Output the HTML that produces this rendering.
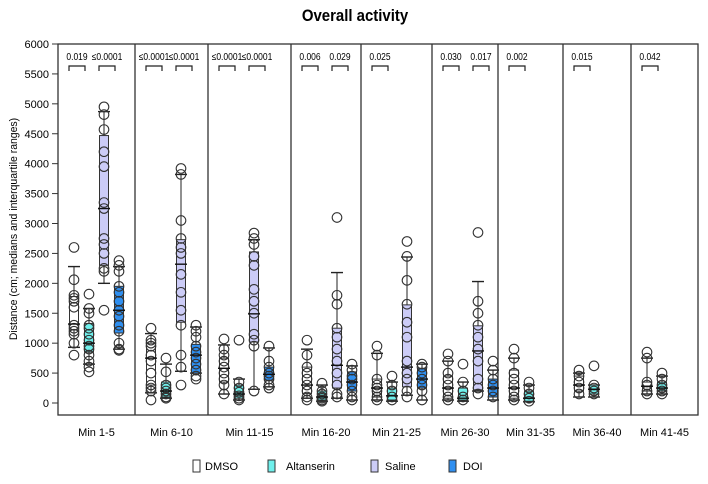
<!DOCTYPE html>
<html><head><meta charset="utf-8"><style>
body{margin:0;background:#fff;}
svg{display:block;font-family:"Liberation Sans",Arial,sans-serif;}
</style></head><body>
<svg id="chart" width="708" height="484" viewBox="0 0 708 484" xmlns="http://www.w3.org/2000/svg">
<text x="355" y="21" text-anchor="middle" font-size="17" font-weight="bold" transform="translate(355 0) scale(0.88 1) translate(-355 0)">Overall activity</text>
<text x="0" y="0" font-size="11" text-anchor="middle" transform="translate(17 229) rotate(-90) scale(0.95 1)">Distance (cm; medians and interquartile ranges)</text>
<g id="plot"></g>
<g>
<rect x="193" y="460" width="7" height="12" fill="#fff" stroke="#333"/>
<text x="205" y="470" font-size="11">DMSO</text>
<rect x="268" y="460" width="7" height="12" fill="#6ff0ec" stroke="#333"/>
<text x="286" y="470" font-size="11">Altanserin</text>
<rect x="371" y="460" width="7" height="12" fill="#ccccf7" stroke="#333"/>
<text x="385" y="470" font-size="11">Saline</text>
<rect x="449" y="460" width="7" height="12" fill="#2f8ff0" stroke="#333"/>
<text x="463" y="470" font-size="11">DOI</text>
</g>
</svg>
<script>
const categories = ["Min 1-5","Min 6-10","Min 11-15","Min 16-20","Min 21-25","Min 26-30","Min 31-35","Min 36-40","Min 41-45"];
const groups = ["DMSO","Altanserin","Saline","DOI"];
const yTicks = [0,500,1000,1500,2000,2500,3000,3500,4000,4500,5000,5500,6000];
// each box: [whiskerLow, q1, median, q3, whiskerHigh]
const dmsoBoxes = [[930,1220,1320,1780,2280],[170,300,750,1000,1160],[150,350,580,750,970],[80,160,300,600,900],[50,100,250,400,830],[50,80,250,450,700],[50,80,250,550,750],[100,200,300,450,500],[150,200,280,350,750]];
const altBoxes = [[650,850,1000,1330,1580],[80,100,200,350,650],[50,80,150,300,400],[30,50,100,200,300],[30,50,120,250,350],[30,50,80,250,350],[20,30,80,200,300],[100,150,230,300,300],[150,200,250,350,450]];
const salineBoxes = [[2000,2300,3250,4470,4870],[530,1350,2320,2730,3820],[230,1020,1490,2525,2730],[80,250,630,1250,2180],[130,270,600,1640,2440],[200,220,870,1290,2030],null,null,null];
const doiBoxes = [[900,1170,1550,1950,2280],[500,500,800,980,1270],[270,380,480,600,920],[50,200,350,520,620],[50,250,400,580,650],[50,100,250,400,550],null,null,null];
const dmsoPoints = [[2600,2060,1800,1750,1700,1600,1300,1250,1200,1150,1000,800],[1250,1050,1000,950,800,700,500,300,250,200,50],[1070,900,800,700,600,500,400,300,150],[1050,800,600,500,400,300,200,100,50],[950,800,400,300,250,200,100,50],[820,700,500,400,300,200,100,50],[900,750,500,400,300,200,100,50],[550,450,350,250,150],[850,750,350,300,200,150]];
const altPoints = [[1820,1580,1500,1300,1250,1150,1050,950,900,800,700,600,520],[750,520,300,250,200,150,100,80],[1050,350,250,180,120,80,50],[330,200,150,100,80,50,30],[450,300,200,100,50],[650,350,200,100,50],[350,250,150,80,30],[620,300,250,200,150],[500,400,300,250,200,150]];
const salinePoints = [[4950,4820,4570,4200,3950,3350,3250,2750,2650,2500,2250,2200,1550],[3920,3820,3050,2750,2600,2500,2150,1850,1550,1300,800,600,300],[2840,2750,2650,2450,2300,1900,1700,1500,1150,1050,950,200],[3100,1800,1650,1250,1100,900,700,500,300,150,100],[2700,2450,2050,1650,1350,1100,700,500,400,200,100],[2850,1700,1500,1300,1100,900,700,400,250,150],[],[],[]];
const doiPoints = [[2380,2300,2200,1950,1850,1700,1550,1450,1300,1200,1000,900,880],[1300,1200,1100,950,850,750,650,550,450,400],[950,700,600,500,450,400,300,250],[650,550,450,400,300,200,100,50],[650,600,500,400,300,200,50],[700,550,400,300,200,100],[],[],[]];
const sigCats = [0,0,1,1,2,2,3,3,4,5,5,6,7,8];
const sigGroups = [0,2,0,2,0,2,0,2,0,0,2,0,0,0];
const sigLabels = ["0.019","≤0.0001","≤0.0001","≤0.0001","≤0.0001","≤0.0001","0.006","0.029","0.025","0.030","0.017","0.002","0.015","0.042"];

const NS="http://www.w3.org/2000/svg";
const plot=document.getElementById('plot');
const panelEdges=[58,135,208,291,361,432,498,563,631,698];
const yTop=44, yBot=415;
function yScale(v){return 403 - v*(359/6000);}
function xScale(cat,g){return panelEdges[cat]+16+g*15;}
function mk(tag,attrs,parent){const e=document.createElementNS(NS,tag);for(const k in attrs)e.setAttribute(k,attrs[k]);(parent||plot).appendChild(e);return e;}
let fr=mk('rect',{x:58,y:yTop,width:640,height:yBot-yTop,fill:'none',stroke:'#333','stroke-width':1.3});


for(let i=1;i<panelEdges.length-1;i++){
  let d=mk('line',{x1:panelEdges[i],x2:panelEdges[i],y1:yTop,y2:yBot,stroke:'#333','stroke-width':1.3});
  
  
}
yTicks.forEach(t=>{
  let y=yScale(t);
  let l=mk('line',{x1:52,x2:58,y1:y,y2:y,stroke:'#333'});
  
  
  let tx=mk('text',{x:49,y:y+4,'text-anchor':'end','font-size':11});
  tx.textContent=t;
  
  
});
categories.forEach((c,i)=>{
  let tx=mk('text',{x:(panelEdges[i]+panelEdges[i+1])/2,y:436,'text-anchor':'middle','font-size':11});
  tx.textContent=c;
  
  
});
const boxSets=[dmsoBoxes,altBoxes,salineBoxes,doiBoxes];
const ptSets=[dmsoPoints,altPoints,salinePoints,doiPoints];
const fills=['#ffffff','#6ff0ec','#ccccf7','#2f8ff0'];
const gNames=['dmso','altanserin','saline','doi'];
categories.forEach((c,ci)=>{
  groups.forEach((g,gi)=>{
    const b=boxSets[gi][ci]; if(!b) return;
    const x=xScale(ci,gi), w=9;
    const grp=mk('g',{});
    
    
    mk('line',{x1:x,x2:x,y1:yScale(b[0]),y2:yScale(b[4]),stroke:'#222'},grp);
    mk('line',{x1:x-6,x2:x+6,y1:yScale(b[0]),y2:yScale(b[0]),stroke:'#222','stroke-width':1.4},grp);
    mk('line',{x1:x-6,x2:x+6,y1:yScale(b[4]),y2:yScale(b[4]),stroke:'#222','stroke-width':1.4},grp);
    mk('rect',{x:x-w/2,y:yScale(b[3]),width:w,height:yScale(b[1])-yScale(b[3]),fill:fills[gi],stroke:'#333'},grp);
    ptSets[gi][ci].forEach(v=>{
      mk('circle',{cx:x,cy:yScale(v),r:4.8,fill:'none',stroke:'#333','stroke-width':1.1},grp);
    });
    mk('line',{x1:x-6,x2:x+6,y1:yScale(b[2]),y2:yScale(b[2]),stroke:'#111','stroke-width':1.4},grp);
  });
});
sigLabels.forEach((s,i)=>{
  const x0=xScale(sigCats[i],sigGroups[i])-5, x1=xScale(sigCats[i],sigGroups[i]+1)-4;
  const grp=mk('g',{});
  
  
  mk('path',{d:`M${x0} 71 V66 H${x1} V71`,fill:'none',stroke:'#222','stroke-width':1.2},grp);
  const cx=(x0+x1)/2;
  const t=mk('text',{x:cx,y:60,'text-anchor':'middle','font-size':10,transform:`translate(${cx} 0) scale(0.85 1) translate(${-cx} 0)`},grp);
  t.textContent=s;
});
</script>
</body></html>
